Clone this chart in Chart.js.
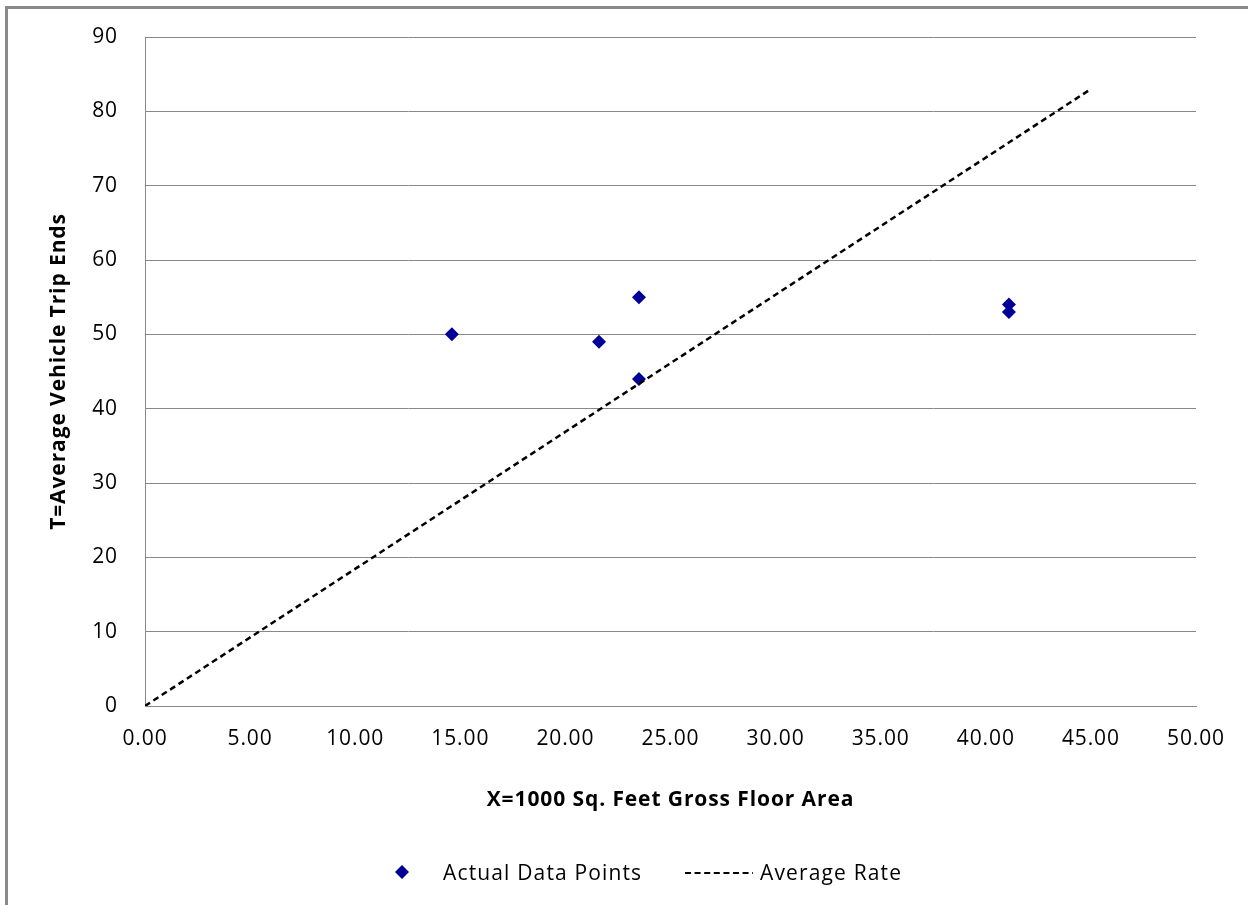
<!DOCTYPE html>
<html>
<head>
<meta charset="utf-8">
<script src="https://cdn.jsdelivr.net/npm/chart.js@4"></script>
<style>
  html, body { margin: 0; padding: 0; background: #fff; }
  #wrap { position: relative; width: 1248px; height: 905px; overflow: hidden; }
  #frame { position: absolute; left: 5px; top: 6px; right: -10px; bottom: -10px;
           border-left: 3px solid #8a8a8a; border-top: 3px solid #8a8a8a; pointer-events: none; }
  #legend { position: absolute; top: 858px; left: 0; height: 28px; font: 21px "Open Sans", sans-serif;
            letter-spacing: 1.15px; color: #000; }
  #legend .item { position: absolute; top: 0; white-space: nowrap; line-height: 28px; }
  #legend svg { position: absolute; top: 0; }
</style>
</head>
<body>
<div id="wrap">
  <canvas id="chart" width="1248" height="905"></canvas>
  <div id="frame"></div>
  <div id="legend">
    <svg style="left:394px" width="16" height="28"><polygon points="8,7 15,14 8,21 1,14" fill="#000099"/></svg>
    <span class="item" style="left:443px">Actual Data Points</span>
    <svg style="left:685px" width="68" height="28"><line x1="0" y1="15" x2="68" y2="15" stroke="#000" stroke-width="2" stroke-dasharray="6,3.6"/></svg>
    <span class="item" style="left:760px">Average Rate</span>
  </div>
</div>
<script>
// Actual data points (x = 1000 sq. ft GFA, y = trip ends)
const areaX = [14.6, 21.6, 23.5, 23.5, 41.1, 41.1];
const tripsY = [50, 49, 55, 44, 54, 53];

// Average rate line endpoints
const rateX = [0, 45];
const rateY = [0, 83];

const xTitle = 'X=1000 Sq. Feet Gross Floor Area';
const yTitle = 'T=Average Vehicle Trip Ends';

const tickFont = { family: 'Open Sans', size: 21 };
const titleFont = { family: 'Open Sans', size: 21, weight: 'bold' };

// Wider text spacing, closer to the original's Calibri look
// (canvas resizing resets the context, so set it right before drawing)
const spacing = {
  id: 'spacing',
  beforeDraw: (chart) => { chart.ctx.letterSpacing = '0.9px'; },
};

new Chart(document.getElementById('chart'), {
  type: 'scatter',
  plugins: [spacing],
  data: {
    datasets: [
      {
        type: 'line',
        label: 'Average Rate',
        data: rateX.map((x, i) => ({ x: x, y: rateY[i] })),
        borderColor: '#000',
        borderWidth: 2.5,
        borderDash: [6, 4],
        pointRadius: 0,
        fill: false,
        order: 0,
      },
      {
        label: 'Actual Data Points',
        data: areaX.map((x, i) => ({ x: x, y: tripsY[i] })),
        pointStyle: 'rectRot',
        pointRadius: 7,
        backgroundColor: '#000099',
        borderColor: '#000099',
        borderWidth: 0,
        order: 1,
      },
    ],
  },
  options: {
    responsive: false,
    animation: false,
    layout: { padding: { left: 0, top: 37, right: 52, bottom: 69 } },
    plugins: {
      legend: { display: false },
      tooltip: { enabled: false },
    },
    scales: {
      x: {
        type: 'linear',
        min: 0,
        max: 50,
        ticks: {
          stepSize: 5,
          color: '#000',
          font: tickFont,
          padding: 20,
          maxRotation: 0,
          callback: (v) => v.toFixed(2),
        },
        grid: { display: false, drawTicks: false },
        border: { display: true, color: '#888', width: 1 },
        title: { display: true, text: xTitle, color: '#000', font: titleFont, padding: { top: 0, bottom: 23 } },
        afterFit: (scale) => { scale.height = 130; },
      },
      y: {
        min: 0,
        max: 90,
        ticks: { stepSize: 10, color: '#000', font: tickFont, padding: 3 },
        grid: { color: '#888', lineWidth: 1, drawTicks: true, tickLength: 24, tickColor: 'rgba(0,0,0,0)' },
        border: { display: true, color: '#888', width: 1 },
        title: { display: true, text: yTitle, color: '#000', font: titleFont, padding: { top: 46, bottom: 0 } },
        afterFit: (scale) => { scale.width = 145; },
      },
    },
  },
});
</script>
</body>
</html>
